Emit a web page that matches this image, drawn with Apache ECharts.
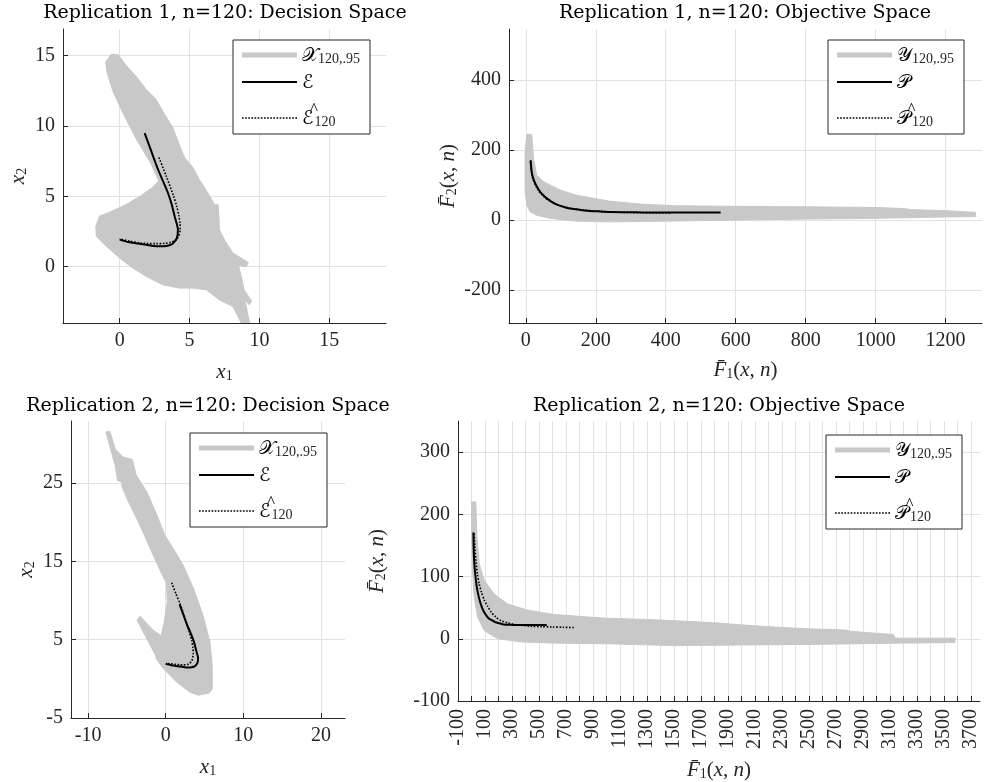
<!DOCTYPE html>
<html>
<head>
<meta charset="utf-8">
<script src="https://cdn.jsdelivr.net/npm/echarts@6/dist/echarts.min.js"></script>
<style>
  html, body { margin: 0; padding: 0; background: #fff; }
  #chart { width: 984px; height: 782px; }
</style>
</head>
<body>
<div id="chart"></div>
<script>
  // decision space, replication 1: outline of the 95% region
  const dec1RegionX = [-1.0, -0.6, -0.1, 0.48, 1.2, 1.9, 2.6, 3.3, 3.8, 4.3, 4.64, 5.24, 5.7, 6.3, 6.8, 7.05, 7.1, 7.14, 7.5, 8.1, 9.2, 9.05, 8.5, 8.7, 8.9, 9.45, 9.25, 8.95, 9.35, 8.85, 8.1, 7.14, 6.2, 5.24, 4.3, 3.1, 1.9, 0.95, 0, -0.95, -1.67, -1.7, -1.43, -0.7, 0.48, 1.43, 2.3, 2.8, 2.2, 1.2, 0.35, -0.45, -0.9]
  const dec1RegionY = [14.55, 15.1, 15.07, 14.3, 13.5, 12.6, 11.9, 10.7, 9.9, 8.6, 7.76, 7.05, 6.2, 5.26, 4.4, 4.4, 3.5, 2.64, 1.9, 0.98, 0.3, 0.0, 0.1, -0.7, -1.64, -2.45, -2.7, -2.3, -4.3, -4.3, -2.83, -2.36, -1.64, -1.52, -1.52, -1.29, -0.69, -0.1, 0.62, 1.45, 2.17, 2.88, 3.6, 3.88, 4.43, 5.0, 5.6, 6.1, 7.4, 9.07, 10.7, 12.4, 13.8]

  // decision space, replication 2
  const dec2RegionX = [-7.7, -7.2, -6.5, -5.5, -4.3, -3.8, -2.4, -1.1, -0.1, 1.0, 2.3, 3.6, 4.8, 5.7, 6.0, 6.0, 5.6, 4.2, 3.1, 1.4, -0.3, -1.2, -1.3, -3.7, -3.3, -1.6, -0.6, -0.2, 0.2, 0.1, -0.8, -1.8, -2.6, -3.7, -5.0, -5.7, -5.5, -6.2, -6.5]
  const dec2RegionY = [31.5, 31.6, 29.3, 28.3, 28.0, 26.0, 23.8, 20.8, 18.3, 16.6, 14.4, 11.5, 8.1, 4.7, 1.7, -1.3, -1.8, -2.1, -1.7, -0.4, 1.3, 2.5, 3.0, 7.5, 8.0, 6.2, 5.5, 7.2, 9.8, 12.2, 14.0, 16.2, 18.0, 20.4, 23.0, 24.7, 25.0, 25.3, 27.2]

  // true efficient set (same in both replications)
  const effX = [1.79, 2.25, 2.74, 3.12, 3.45, 3.72, 3.93, 4.1, 4.17, 4.1, 3.9, 3.69, 3.35, 2.98, 2.4, 1.9, 1.3, 0.71, 0.3, 0]
  const effY = [9.5, 8.25, 6.93, 6.05, 5.26, 4.45, 3.6, 3.0, 2.64, 2.05, 1.75, 1.57, 1.48, 1.45, 1.48, 1.57, 1.65, 1.74, 1.84, 1.93]

  // estimated efficient sets
  const est1X = [2.81, 3.33, 3.86, 4.08, 4.24, 4.32, 4.33, 4.17, 3.95, 3.69, 3.2, 2.62, 2.0, 1.43, 0.7, 0]
  const est1Y = [7.76, 6.45, 5.02, 4.3, 3.6, 3.1, 2.64, 2.05, 1.85, 1.74, 1.66, 1.64, 1.65, 1.69, 1.82, 1.98]
  const est2X = [0.77, 1.3, 1.84, 2.3, 2.7, 3.05, 3.35, 3.5, 3.55, 3.48, 3.35, 3.1, 2.78, 2.3, 1.84, 1.2, 0.55, 0.04]
  const est2Y = [12.27, 10.9, 9.6, 8.3, 7.05, 5.95, 4.9, 4.0, 3.2, 2.7, 2.27, 2.0, 1.83, 1.78, 1.8, 1.85, 1.92, 2.0]

  // objective space regions
  const obj1RegionF1 = [3, 17, 22, 31, 50, 98, 145, 240, 336, 431, 526, 640, 800, 900, 1000, 1080, 1100, 1200, 1285, 1285, 1200, 1100, 1000, 800, 600, 400, 240, 145, 69, 31, 12, 3, -2, -2]
  const obj1RegionF2 = [245, 245, 176, 129, 110, 86, 71, 54, 45, 41, 40, 39, 38, 37, 36, 33, 30, 27, 22, 10, 9, 7, 5, 3, 0, -3, -5, -3, 5, 14, 24, 43, 81, 195]
  const obj2RegionF1 = [0, 32, 40, 57, 94, 168, 267, 415, 612, 860, 1000, 1300, 1600, 1850, 1986, 2121, 2232, 2491, 2654, 2778, 2800, 2926, 3121, 3140, 3580, 3580, 3173, 2506, 2000, 1500, 1000, 620, 370, 195, 95, 45, 20, 7, 0]
  const obj2RegionF2 = [220, 220, 163, 120, 94, 72, 56, 46, 39, 35, 33, 31, 28, 25, 22.5, 20.6, 19, 16, 15, 14, 12, 10, 7, 1, 1, -6, -7, -9, -10, -11, -8, -7, -5, 0, 13, 35, 67, 110, 180]

  // true Pareto front (same in both replications)
  const parF1 = [14, 15, 17, 21, 27, 34, 41, 50, 60, 73, 88, 105, 126, 150, 174, 205, 240, 290, 336, 431, 500, 557]
  const parF2 = [171, 155, 138, 120, 105, 92, 81, 71, 62, 53, 45, 39, 33, 30, 27, 25, 23, 22.5, 22, 22, 22, 22]

  // estimated Pareto fronts
  const estP1F1 = [13, 16, 20, 26, 33, 40, 50, 60, 75, 90, 108, 130, 160, 200, 250, 330, 416]
  const estP1F2 = [168, 140, 118, 103, 90, 79, 69, 60, 51, 44, 38, 33, 29, 26, 23, 21, 20]
  const estP2F1 = [20, 24, 32, 43, 57, 75, 95, 120, 145, 180, 220, 270, 320, 380, 445, 520, 595, 680, 770]
  const estP2F2 = [169, 150, 126, 105, 88, 74, 62, 52, 43, 35, 29, 25.5, 23, 21.5, 20, 19.5, 19, 18.5, 18]

  // tick values
  const dec1TicksX = [0, 5, 10, 15]
  const dec1TicksY = [0, 5, 10, 15]
  const dec2TicksX = [-10, 0, 10, 20]
  const dec2TicksY = [-5, 5, 15, 25]
  const obj1TicksX = [0, 200, 400, 600, 800, 1000, 1200]
  const obj1TicksY = [-200, 0, 200, 400]
  const obj2TicksX = [-100, 0, 100, 200, 300, 400, 500, 600, 700, 800, 900, 1000, 1100, 1200, 1300, 1400, 1500, 1600, 1700, 1800, 1900, 2000, 2100, 2200, 2300, 2400, 2500, 2600, 2700, 2800, 2900, 3000, 3100, 3200, 3300, 3400, 3500, 3600, 3700]
  const obj2LabelsX = [-100, 100, 300, 500, 700, 900, 1100, 1300, 1500, 1700, 1900, 2100, 2300, 2500, 2700, 2900, 3100, 3300, 3500, 3700]
  const obj2TicksY = [-100, 0, 100, 200, 300]

  const GRAY = '#c8c8c8'
  const INK = '#262626'
  const SERIF = "'Liberation Serif', 'DejaVu Serif', serif"
  const TITLE_FONT = "'DejaVu Serif', serif"

  const mathRich = {
    it: { fontFamily: SERIF, fontStyle: 'italic', fontSize: 21, color: INK, verticalAlign: 'bottom', lineHeight: 24 },
    rm: { fontFamily: SERIF, fontSize: 21, color: INK, verticalAlign: 'bottom', lineHeight: 24 },
    cal: { fontFamily: "'DejaVu Sans', 'DejaVu Serif', sans-serif", fontSize: 19, color: '#000', verticalAlign: 'bottom', lineHeight: 22 },
    // hat drawn over the preceding letter (1px-wide token, right aligned)
    hat: { fontFamily: SERIF, fontSize: 17, color: '#000', verticalAlign: 'top', lineHeight: 22, width: 1, align: 'right', padding: [-6, 0, 0, 0] },
    sub: { fontFamily: SERIF, fontSize: 14, color: INK, verticalAlign: 'bottom', lineHeight: 12 },
  }

  const legendText = {
    X1: '{cal|𝒳}{sub|120,.95}', E1: '{cal|ℰ}', Eh1: '{cal|ℰ}{hat|^}{sub|120}',
    Y1: '{cal|𝒴}{sub|120,.95}', P1: '{cal|𝒫}', Ph1: '{cal|𝒫}{hat|^}{sub|120}',
    X2: '{cal|𝒳}{sub|120,.95}', E2: '{cal|ℰ}', Eh2: '{cal|ℰ}{hat|^}{sub|120}',
    Y2: '{cal|𝒴}{sub|120,.95}', P2: '{cal|𝒫}', Ph2: '{cal|𝒫}{hat|^}{sub|120}',
  }

  // legend glyphs: thick grey bar, solid line, dotted line
  const regionIcon = 'path://M0,0H55V5H0Z'
  const solidIcon = 'path://M0,0H55V2H0Z'
  let dottedIcon = 'path://'
  for (let x = 0; x < 54; x += 3) dottedIcon += 'M' + x + ',0h1.6v1.6h-1.6z'

  function pairs(xs, ys) {
    return xs.map((x, i) => [x, ys[i]])
  }

  function regionSeries(name, idx, xs, ys) {
    const pts = pairs(xs, ys)
    return {
      name: name,
      type: 'custom',
      xAxisIndex: idx,
      yAxisIndex: idx,
      clip: true,
      silent: true,
      itemStyle: { color: GRAY },
      data: pts,
      renderItem: function (params, api) {
        if (params.dataIndex !== 0) return
        return {
          type: 'polygon',
          shape: { points: pts.map((p) => api.coord(p)) },
          style: { fill: GRAY, stroke: GRAY, lineWidth: 1 },
        }
      },
    }
  }

  function lineSeries(name, idx, xs, ys, dotted) {
    return {
      name: name,
      type: 'line',
      xAxisIndex: idx,
      yAxisIndex: idx,
      data: pairs(xs, ys),
      symbol: 'none',
      smooth: 0.25,
      silent: true,
      z: dotted ? 4 : 3,
      lineStyle: dotted
        ? { color: '#000', width: 1.6, type: [1.6, 1.6] }
        : { color: '#000', width: 2 },
      itemStyle: { color: '#000' },
    }
  }

  const plainNum = (v) => String(v)

  function xAxis(idx, min, max, ticks, labels, name, nameGap, rotate) {
    return {
      type: 'value', gridIndex: idx, min: min, max: max,
      name: name, nameLocation: 'middle', nameGap: nameGap,
      nameTextStyle: { rich: mathRich },
      axisLine: { show: true, onZero: false, lineStyle: { color: INK, width: 1 } },
      axisTick: { show: true, inside: true, length: 5, customValues: ticks, lineStyle: { color: INK } },
      axisLabel: {
        customValues: labels, fontFamily: SERIF, fontSize: 20, color: INK, margin: 8,
        rotate: rotate || 0, formatter: plainNum,
      },
      splitLine: { show: true, lineStyle: { color: '#e2e2e2', width: 1 } },
    }
  }

  function yAxis(idx, min, max, ticks, name, nameGap) {
    return {
      type: 'value', gridIndex: idx, min: min, max: max,
      name: name, nameLocation: 'middle', nameGap: nameGap,
      nameTextStyle: { rich: mathRich },
      axisLine: { show: true, onZero: false, lineStyle: { color: INK, width: 1 } },
      axisTick: { show: true, inside: true, length: 5, customValues: ticks, lineStyle: { color: INK } },
      axisLabel: { customValues: ticks, fontFamily: SERIF, fontSize: 20, color: INK, margin: 8, formatter: plainNum },
      splitLine: { show: true, lineStyle: { color: '#e2e2e2', width: 1 } },
    }
  }

  function legend(left, top, names) {
    return {
      orient: 'vertical', left: left, top: top,
      data: [
        { name: names[0], icon: regionIcon, itemStyle: { color: GRAY } },
        { name: names[1], icon: solidIcon, itemStyle: { color: '#000' } },
        { name: names[2], icon: dottedIcon, itemStyle: { color: '#000' } },
      ],
      selectedMode: false,
      itemWidth: 55, itemHeight: 14, itemGap: 8,
      padding: [7, 10, 5, 9],
      borderColor: INK, borderWidth: 1, borderRadius: 0,
      backgroundColor: '#fff',
      formatter: (n) => legendText[n],
      textStyle: { rich: mathRich },
    }
  }

  const F1 = '{it|F̄}{sub|1}{rm|(}{it|x}{rm|, }{it|n}{rm|)}'
  const F2 = '{it|F̄}{sub|2}{rm|(}{it|x}{rm|, }{it|n}{rm|)}'

  const chart = echarts.init(document.getElementById('chart'), null, { renderer: 'canvas' })
  chart.setOption({
    animation: false,
    backgroundColor: '#fff',
    graphic: [
      { type: 'text', x: 225, y: 13, style: { text: 'Replication 1, n=120: Decision Space', font: '19px ' + TITLE_FONT, fill: '#000', align: 'center', verticalAlign: 'middle' } },
      { type: 'text', x: 745, y: 13, style: { text: 'Replication 1, n=120: Objective Space', font: '19px ' + TITLE_FONT, fill: '#000', align: 'center', verticalAlign: 'middle' } },
      { type: 'text', x: 208, y: 406, style: { text: 'Replication 2, n=120: Decision Space', font: '19px ' + TITLE_FONT, fill: '#000', align: 'center', verticalAlign: 'middle' } },
      { type: 'text', x: 719, y: 406, style: { text: 'Replication 2, n=120: Objective Space', font: '19px ' + TITLE_FONT, fill: '#000', align: 'center', verticalAlign: 'middle' } },
    ],
    grid: [
      { left: 63, top: 29, width: 323, height: 294 },
      { left: 509, top: 29, width: 473, height: 294 },
      { left: 71, top: 421, width: 274, height: 297 },
      { left: 458, top: 421, width: 522, height: 280 },
    ],
    xAxis: [
      xAxis(0, -4.05, 19.05, dec1TicksX, dec1TicksX, '{it|x}{sub|1}', 36),
      xAxis(1, -48, 1304, obj1TicksX, obj1TicksX, F1, 34),
      xAxis(2, -12.2, 23.1, dec2TicksX, dec2TicksX, '{it|x}{sub|1}', 36),
      xAxis(3, -100, 3765, obj2TicksX, obj2LabelsX, F1, 56, 90),
    ],
    yAxis: [
      yAxis(0, -4, 16.9, dec1TicksY, '{it|x}{sub|2}', 34),
      yAxis(1, -294, 546, obj1TicksY, F2, 50),
      yAxis(2, -5, 32.9, dec2TicksY, '{it|x}{sub|2}', 34),
      yAxis(3, -100, 350, obj2TicksY, F2, 70),
    ],
    legend: [
      legend(233, 40, ['X1', 'E1', 'Eh1']),
      legend(828, 40, ['Y1', 'P1', 'Ph1']),
      legend(190, 433, ['X2', 'E2', 'Eh2']),
      legend(826, 435, ['Y2', 'P2', 'Ph2']),
    ],
    series: [
      regionSeries('X1', 0, dec1RegionX, dec1RegionY),
      lineSeries('E1', 0, effX, effY, false),
      lineSeries('Eh1', 0, est1X, est1Y, true),
      regionSeries('Y1', 1, obj1RegionF1, obj1RegionF2),
      lineSeries('P1', 1, parF1, parF2, false),
      lineSeries('Ph1', 1, estP1F1, estP1F2, true),
      regionSeries('X2', 2, dec2RegionX, dec2RegionY),
      lineSeries('E2', 2, effX, effY, false),
      lineSeries('Eh2', 2, est2X, est2Y, true),
      regionSeries('Y2', 3, obj2RegionF1, obj2RegionF2),
      lineSeries('P2', 3, parF1, parF2, false),
      lineSeries('Ph2', 3, estP2F1, estP2F2, true),
    ],
  })
</script>
</body>
</html>
